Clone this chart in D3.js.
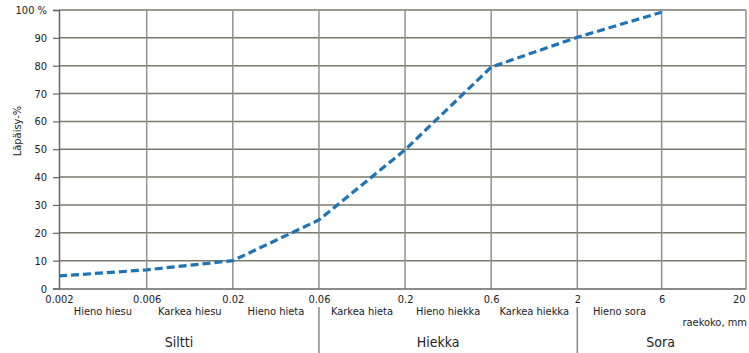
<!DOCTYPE html>
<html>
<head>
<meta charset="utf-8">
<script src="https://cdn.jsdelivr.net/npm/d3@7"></script>
<style>
  html, body { margin: 0; padding: 0; background: #fff; }
  svg { display: block; }
  text { font-family: "DejaVu Sans Condensed", "DejaVu Sans", sans-serif; fill: #222; }
</style>
</head>
<body>
<svg id="chart" width="749" height="353"></svg>
<script>
// Sieve sizes (mm) shown along the x axis
const sizes = ["0.002", "0.006", "0.02", "0.06", "0.2", "0.6", "2", "6", "20"];
// Passing percentage at each sieve size
const passing = [4.5, 6.7, 10, 24.6, 49.8, 79.5, 90.2, 99.2];
const passingSizes = ["0.002", "0.006", "0.02", "0.06", "0.2", "0.6", "2", "6"];
// Y tick values
const yTicks = [0, 10, 20, 30, 40, 50, 60, 70, 80, 90, 100];
// Soil fractions between consecutive sizes
const fractions = ["Hieno hiesu", "Karkea hiesu", "Hieno hieta", "Karkea hieta",
                   "Hieno hiekka", "Karkea hiekka", "Hieno sora"];
// Main soil classes with their size ranges
const groups = ["Siltti", "Hiekka", "Sora"];
const groupFrom = ["0.002", "0.06", "2"];
const groupTo = ["0.06", "2", "20"];

const svg = d3.select("#chart");
const plotLeft = 59, plotRight = 746, plotTop = 10, plotBottom = 288.5;

// Sizes are placed at evenly spaced classes; the last two intervals are a bit narrower
const xIdx = d3.scaleLinear().domain([0, 1, 6, 8]).range([plotLeft, 146.7, 577.3, plotRight]);
const x = d => xIdx(sizes.indexOf(d));
const y = d3.scaleLinear().domain([0, 100]).range([plotBottom, plotTop]);

// Horizontal gridlines
svg.append("g").selectAll("line").data(yTicks.filter(d => d > 0)).join("line")
  .attr("x1", plotLeft).attr("x2", plotRight)
  .attr("y1", d => y(d)).attr("y2", d => y(d))
  .attr("stroke", "#7a7a6c").attr("stroke-width", 1.5);

// Vertical gridlines
svg.append("g").selectAll("line").data(sizes.slice(1)).join("line")
  .attr("x1", d => x(d)).attr("x2", d => x(d))
  .attr("y1", plotTop).attr("y2", plotBottom)
  .attr("stroke", "#929292").attr("stroke-width", 1.5);

// Y axis
const yAxis = d3.axisLeft(y).tickValues(yTicks).tickSize(6).tickPadding(6)
  .tickFormat(d => d === 100 ? "100 %" : d);
const gy = svg.append("g").attr("transform", `translate(${plotLeft},0)`).call(yAxis);
gy.select(".domain").attr("stroke", "#666").attr("stroke-width", 1.5);
gy.selectAll(".tick line").attr("stroke", "#666").attr("stroke-width", 1.2);
gy.selectAll(".tick text").style("font-family", "DejaVu Sans Condensed")
  .style("font-size", "11px").attr("fill", "#222");

// X axis (sizes on an index-based scale)
const xAxis = d3.axisBottom(xIdx).tickValues(d3.range(sizes.length))
  .tickFormat(i => sizes[i]).tickSize(0).tickPadding(7);
const gx = svg.append("g").attr("transform", `translate(0,${plotBottom})`).call(xAxis);
gx.select(".domain").attr("stroke", "#666").attr("stroke-width", 1.5);
gx.selectAll(".tick text").style("font-family", "DejaVu Sans Condensed")
  .style("font-size", "11px").attr("fill", "#222")
  .attr("text-anchor", (d, i) => i === sizes.length - 1 ? "end" : "middle")
  .attr("dx", (d, i) => i === sizes.length - 1 ? -1 : 0);

// Y axis title
svg.append("text")
  .attr("transform", "translate(21,131) rotate(-90)")
  .attr("text-anchor", "middle")
  .style("font-size", "11px")
  .text("Läpäisy-%");

// Fraction labels between sizes
svg.append("g").selectAll("text").data(fractions).join("text")
  .attr("x", (d, i) => (x(sizes[i]) + x(sizes[i + 1])) / 2)
  .attr("y", 315)
  .attr("text-anchor", "middle")
  .style("font-size", "11px")
  .text(d => d);

// Unit label
svg.append("text")
  .attr("x", 747).attr("y", 326)
  .attr("text-anchor", "end")
  .style("font-size", "11px")
  .text("raekoko, mm");

// Dividers between the main classes
svg.append("g").selectAll("line").data(groupFrom.slice(1)).join("line")
  .attr("x1", d => x(d)).attr("x2", d => x(d))
  .attr("y1", 307).attr("y2", 353)
  .attr("stroke", "#8a8a8a").attr("stroke-width", 1.5);

// Main class labels, set slightly left of their range centre
svg.append("g").selectAll("text").data(groups).join("text")
  .attr("x", (d, i) => (x(groupFrom[i]) + x(groupTo[i])) / 2 - (i < 2 ? 10 : 1))
  .attr("y", 347)
  .attr("text-anchor", "middle")
  .style("font-size", "14px")
  .text(d => d);

// Grading curve
const line = d3.line()
  .x((d, i) => x(passingSizes[i]))
  .y(d => y(d));
svg.append("path")
  .datum(passing)
  .attr("d", line)
  .attr("fill", "none")
  .attr("stroke", "#1f73b7")
  .attr("stroke-width", 3.2)
  .attr("stroke-dasharray", "8,4");
</script>
</body>
</html>
